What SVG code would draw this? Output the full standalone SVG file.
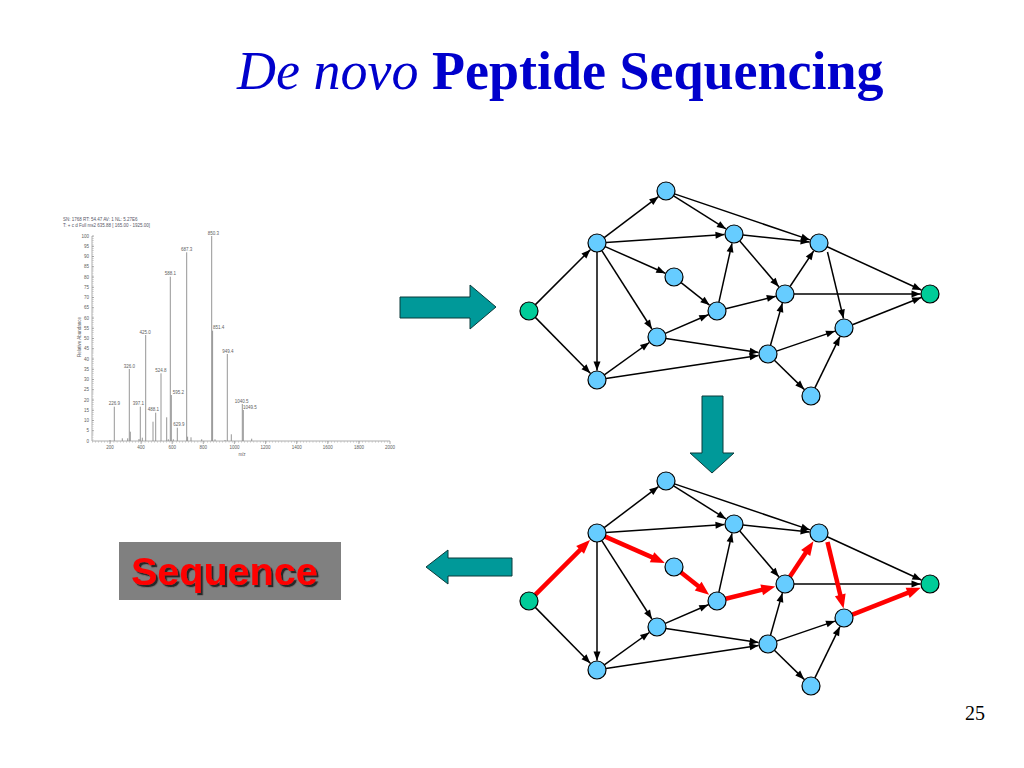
<svg xmlns="http://www.w3.org/2000/svg" width="1024" height="768" viewBox="0 0 1024 768">
<defs>
<style>
.e{stroke:#000;stroke-width:1.5;fill:none;marker-end:url(#ah)}
.r{stroke:#FF0000;stroke-width:4.5;fill:none;marker-end:url(#rh)}
.n{fill:#66CCFF;stroke:#000;stroke-width:1.2}
.t{fill:#00CC99;stroke:#000;stroke-width:1.2}
.big{fill:#009999;stroke:#0b3a3a;stroke-width:1}
.sp{stroke:#8a8a8a;stroke-width:0.7;fill:none}
.pk{stroke:#8a8a8a;stroke-width:0.9}
.lb{font-family:"Liberation Sans",Arial,sans-serif;font-size:4.5px;fill:#606060}
.lbm{font-family:"Liberation Sans",Arial,sans-serif;font-size:4.5px;fill:#606060;text-anchor:middle}
.lbe{font-family:"Liberation Sans",Arial,sans-serif;font-size:4.5px;fill:#606060;text-anchor:end}
</style>
<marker id="ah" markerUnits="userSpaceOnUse" markerWidth="9" markerHeight="7" refX="9" refY="3.5" orient="auto" overflow="visible"><path d="M0,0 L9,3.5 L0,7 Z" fill="#000"/></marker>
<marker id="rh" markerUnits="userSpaceOnUse" markerWidth="14" markerHeight="11" refX="4" refY="5.5" orient="auto" overflow="visible"><path d="M0,0 L14,5.5 L0,11 Z" fill="#FF0000"/></marker>
<filter id="sh" x="-10%" y="-20%" width="130%" height="150%"><feDropShadow dx="2.2" dy="2.2" stdDeviation="0.6" flood-color="#1a1a1a" flood-opacity="0.9"/></filter>
</defs>
<rect width="1024" height="768" fill="#fff"/>

<g id="title">
<text x="237" y="89" font-family="'Liberation Serif','Times New Roman',serif" font-size="54" fill="#0000CC"><tspan font-style="italic">De novo</tspan><tspan font-weight="bold"> Peptide Sequencing</tspan></text>
</g>

<g id="spectrum">
<text x="63" y="221" class="lb" style="fill:#556">SN: 1768  RT: 54.47  AV: 1  NL: 5.27E6</text>
<text x="63" y="227" class="lb" style="fill:#556">T: + c d Full ms2 635.88 [ 165.00 - 1925.00]</text>
<path class="sp" d="M92,236 V441 H390"/>
<path class="sp" d="M92,236h2M92,246.25h2M92,256.5h2M92,266.75h2M92,277h2M92,287.25h2M92,297.5h2M92,307.75h2M92,318h2M92,328.25h2M92,338.5h2M92,348.75h2M92,359h2M92,369.25h2M92,379.5h2M92,389.75h2M92,400h2M92,410.25h2M92,420.5h2M92,430.75h2"/>
<line x1="93" y1="236" x2="93" y2="441" stroke="#8a8a8a" stroke-width="1.2" stroke-dasharray="0.35 1.7"/>
<line x1="92" y1="442" x2="390" y2="442" stroke="#8a8a8a" stroke-width="1.6" stroke-dasharray="0.35 2.76"/>
<path class="sp" d="M110,441v3M141.1,441v3M172.2,441v3M203.3,441v3M234.4,441v3M265.6,441v3M296.7,441v3M327.8,441v3M358.9,441v3M390,441v3"/>
<g>
<text x="89" y="442.6" class="lbe">0</text>
<text x="89" y="432.4" class="lbe">5</text>
<text x="89" y="422.1" class="lbe">10</text>
<text x="89" y="411.9" class="lbe">15</text>
<text x="89" y="401.6" class="lbe">20</text>
<text x="89" y="391.4" class="lbe">25</text>
<text x="89" y="381.1" class="lbe">30</text>
<text x="89" y="370.9" class="lbe">35</text>
<text x="89" y="360.6" class="lbe">40</text>
<text x="89" y="350.4" class="lbe">45</text>
<text x="89" y="340.1" class="lbe">50</text>
<text x="89" y="329.9" class="lbe">55</text>
<text x="89" y="319.6" class="lbe">60</text>
<text x="89" y="309.4" class="lbe">65</text>
<text x="89" y="299.1" class="lbe">70</text>
<text x="89" y="288.9" class="lbe">75</text>
<text x="89" y="278.6" class="lbe">80</text>
<text x="89" y="268.4" class="lbe">85</text>
<text x="89" y="258.1" class="lbe">90</text>
<text x="89" y="247.9" class="lbe">95</text>
<text x="89" y="237.6" class="lbe">100</text>
</g>
<g>
<text x="110" y="449" class="lbm">200</text>
<text x="141.1" y="449" class="lbm">400</text>
<text x="172.2" y="449" class="lbm">600</text>
<text x="203.3" y="449" class="lbm">800</text>
<text x="234.4" y="449" class="lbm">1000</text>
<text x="265.6" y="449" class="lbm">1200</text>
<text x="296.7" y="449" class="lbm">1400</text>
<text x="327.8" y="449" class="lbm">1600</text>
<text x="358.9" y="449" class="lbm">1800</text>
<text x="390" y="449" class="lbm">2000</text>
<text x="242" y="456" class="lbm">m/z</text>
</g>
<text transform="translate(81,337) rotate(-90)" class="lbm">Relative Abundance</text>
<path class="pk" d="M114.3,441V406.7M129.3,441V369M140.3,441V406.7M145.7,441V335M155.7,441V412.7M161,441V373.3M170.3,441V276.7M171.3,441V395M177.3,441V427.7M186.7,441V252.3M211.7,441V236M212.6,441V330.7M227.3,441V354M242.3,441V404M243.3,441V410"/>
<path class="pk" d="M110,441V440M122.3,441V438.3M127.7,441V438.3M130.3,441V431.7M139,441V439M142.3,441V437.7M153,441V421.7M166.7,441V417.3M168.3,441V439.3M173.3,441V439.3M187.6,441V436.7M191,441V437.3M201.7,441V439.3M215,441V439.3M225,441V440M231.3,441V434.3M251.7,441V438.7"/>
<g>
<text x="114.3" y="405.3" class="lbm">226.9</text>
<text x="129.3" y="367.6" class="lbm">326.0</text>
<text x="138.3" y="405.3" class="lbm">397.1</text>
<text x="145.2" y="333.6" class="lbm">425.0</text>
<text x="153.3" y="411.3" class="lbm">488.1</text>
<text x="161" y="371.9" class="lbm">524.8</text>
<text x="170.3" y="275.3" class="lbm">588.1</text>
<text x="178.3" y="393.6" class="lbm">595.2</text>
<text x="179" y="426.3" class="lbm">629.9</text>
<text x="186.7" y="250.9" class="lbm">687.3</text>
<text x="213.5" y="234.6" class="lbm">850.3</text>
<text x="218.7" y="329.3" class="lbm">851.4</text>
<text x="227.8" y="352.6" class="lbm">949.4</text>
<text x="241.7" y="402.6" class="lbm">1040.5</text>
<text x="250" y="409.3" class="lbm">1049.5</text>
</g>
</g>

<g id="arrow-right"><polygon class="big" points="400,297 470,297 470,285 496,307 470,329 470,318 400,318"/></g>
<g id="arrow-down"><polygon class="big" points="702,396 723,396 723,453 734,453 712,473 690,453 702,453"/></g>
<g id="arrow-left"><polygon class="big" points="426,567 448,550 448,558 512,558 512,576 448,576 448,584"/></g>

<g id="sequence">
<rect x="119" y="542" width="222" height="58" fill="#808080"/>
<text x="131" y="585" font-family="'Liberation Sans',Arial,sans-serif" font-weight="bold" font-size="39.5" fill="#FF0000" filter="url(#sh)">Sequence</text>
</g>

<g id="graph-top">
<g id="top-connectors">
<line class="e" x1="535.4" y1="304.6" x2="590.3" y2="249.7"/>
<line class="e" x1="535.3" y1="317.4" x2="590.3" y2="373.2"/>
<line class="e" x1="604.2" y1="237.6" x2="658.4" y2="196.7"/>
<line class="e" x1="606" y1="242.4" x2="724.5" y2="234.6"/>
<line class="e" x1="605.2" y1="246.6" x2="665.3" y2="273.2"/>
<line class="e" x1="601.8" y1="250.6" x2="651.9" y2="329"/>
<line class="e" x1="597" y1="252" x2="597" y2="370.5"/>
<line class="e" x1="673.6" y1="195.8" x2="726" y2="228.9"/>
<line class="e" x1="674.5" y1="193.9" x2="810" y2="239.9"/>
<line class="e" x1="743" y1="234.9" x2="809.6" y2="242"/>
<line class="e" x1="739.8" y1="240.9" x2="778.8" y2="286.8"/>
<line class="e" x1="681.1" y1="282.6" x2="709.5" y2="305.1"/>
<line class="e" x1="718.9" y1="302.2" x2="732" y2="243.3"/>
<line class="e" x1="725.7" y1="308.8" x2="775.8" y2="296.3"/>
<line class="e" x1="790" y1="286.5" x2="813.7" y2="250.9"/>
<line class="e" x1="794" y1="294" x2="920.5" y2="294"/>
<line class="e" x1="827.2" y1="246.8" x2="921.4" y2="290"/>
<line class="e" x1="827.5" y1="252" x2="843.5" y2="318.5"/>
<line class="e" x1="665.3" y1="333.4" x2="708.3" y2="314.8"/>
<line class="e" x1="665.9" y1="338.4" x2="758.6" y2="352.6"/>
<line class="e" x1="604.3" y1="374.8" x2="649.3" y2="342.5"/>
<line class="e" x1="605.9" y1="378.6" x2="758.6" y2="355.4"/>
<line class="e" x1="770.5" y1="345.3" x2="782.4" y2="303.1"/>
<line class="e" x1="776.5" y1="351.1" x2="835" y2="331.1"/>
<line class="e" x1="774.4" y1="360.3" x2="804.2" y2="389.4"/>
<line class="e" x1="814.9" y1="387.9" x2="839.9" y2="336.6"/>
<line class="e" x1="852.4" y1="324.7" x2="921.2" y2="297.5"/>
</g>
<g id="top-S"><circle class="t" cx="529" cy="311" r="9"/></g>
<g id="top-A"><circle class="n" cx="597" cy="243" r="9"/></g>
<g id="top-B"><circle class="n" cx="666" cy="191" r="9"/></g>
<g id="top-C"><circle class="n" cx="734" cy="234" r="9"/></g>
<g id="top-D"><circle class="n" cx="819" cy="243" r="9"/></g>
<g id="top-E"><circle class="n" cx="674" cy="277" r="9"/></g>
<g id="top-F"><circle class="n" cx="717" cy="311" r="9"/></g>
<g id="top-G"><circle class="n" cx="785" cy="294" r="9"/></g>
<g id="top-H"><circle class="t" cx="930" cy="294" r="9"/></g>
<g id="top-I"><circle class="n" cx="657" cy="337" r="9"/></g>
<g id="top-J"><circle class="n" cx="768" cy="354" r="9"/></g>
<g id="top-K"><circle class="n" cx="844" cy="328" r="9"/></g>
<g id="top-L"><circle class="n" cx="597" cy="380" r="9"/></g>
<g id="top-M"><circle class="n" cx="811" cy="396" r="9"/></g>
</g>

<g id="graph-bottom" transform="translate(0,290)">
<g id="bottom-connectors">
<line class="r" x1="535.4" y1="304.6" x2="582.9" y2="257.1"/>
<line class="e" x1="535.3" y1="317.4" x2="590.3" y2="373.2"/>
<line class="e" x1="604.2" y1="237.6" x2="658.4" y2="196.7"/>
<line class="e" x1="606" y1="242.4" x2="724.5" y2="234.6"/>
<line class="r" x1="605.2" y1="246.6" x2="655.7" y2="268.9"/>
<line class="e" x1="601.8" y1="250.6" x2="651.9" y2="329"/>
<line class="e" x1="597" y1="252" x2="597" y2="370.5"/>
<line class="e" x1="673.6" y1="195.8" x2="726" y2="228.9"/>
<line class="e" x1="674.5" y1="193.9" x2="810" y2="239.9"/>
<line class="e" x1="743" y1="234.9" x2="809.6" y2="242"/>
<line class="e" x1="739.8" y1="240.9" x2="778.8" y2="286.8"/>
<line class="r" x1="681.1" y1="282.6" x2="701.3" y2="298.6"/>
<line class="e" x1="718.9" y1="302.2" x2="732" y2="243.3"/>
<line class="r" x1="725.7" y1="308.8" x2="765.6" y2="298.9"/>
<line class="r" x1="790" y1="286.5" x2="807.9" y2="259.6"/>
<line class="e" x1="794" y1="294" x2="920.5" y2="294"/>
<line class="e" x1="827.2" y1="246.8" x2="921.4" y2="290"/>
<line class="r" x1="827.5" y1="252" x2="841.2" y2="308.8"/>
<line class="e" x1="665.3" y1="333.4" x2="708.3" y2="314.8"/>
<line class="e" x1="665.9" y1="338.4" x2="758.6" y2="352.6"/>
<line class="e" x1="604.3" y1="374.8" x2="649.3" y2="342.5"/>
<line class="e" x1="605.9" y1="378.6" x2="758.6" y2="355.4"/>
<line class="e" x1="770.5" y1="345.3" x2="782.4" y2="303.1"/>
<line class="e" x1="776.5" y1="351.1" x2="835" y2="331.1"/>
<line class="e" x1="774.4" y1="360.3" x2="804.2" y2="389.4"/>
<line class="e" x1="814.9" y1="387.9" x2="839.9" y2="336.6"/>
<line class="r" x1="852.4" y1="324.7" x2="911.4" y2="301.4"/>
</g>
<g id="bottom-S"><circle class="t" cx="529" cy="311" r="9"/></g>
<g id="bottom-A"><circle class="n" cx="597" cy="243" r="9"/></g>
<g id="bottom-B"><circle class="n" cx="666" cy="191" r="9"/></g>
<g id="bottom-C"><circle class="n" cx="734" cy="234" r="9"/></g>
<g id="bottom-D"><circle class="n" cx="819" cy="243" r="9"/></g>
<g id="bottom-E"><circle class="n" cx="674" cy="277" r="9"/></g>
<g id="bottom-F"><circle class="n" cx="717" cy="311" r="9"/></g>
<g id="bottom-G"><circle class="n" cx="785" cy="294" r="9"/></g>
<g id="bottom-H"><circle class="t" cx="930" cy="294" r="9"/></g>
<g id="bottom-I"><circle class="n" cx="657" cy="337" r="9"/></g>
<g id="bottom-J"><circle class="n" cx="768" cy="354" r="9"/></g>
<g id="bottom-K"><circle class="n" cx="844" cy="328" r="9"/></g>
<g id="bottom-L"><circle class="n" cx="597" cy="380" r="9"/></g>
<g id="bottom-M"><circle class="n" cx="811" cy="396" r="9"/></g>
</g>

<g id="page-number"><text x="985" y="720" text-anchor="end" font-family="'Liberation Serif','Times New Roman',serif" font-size="20" fill="#000">25</text></g>
</svg>
